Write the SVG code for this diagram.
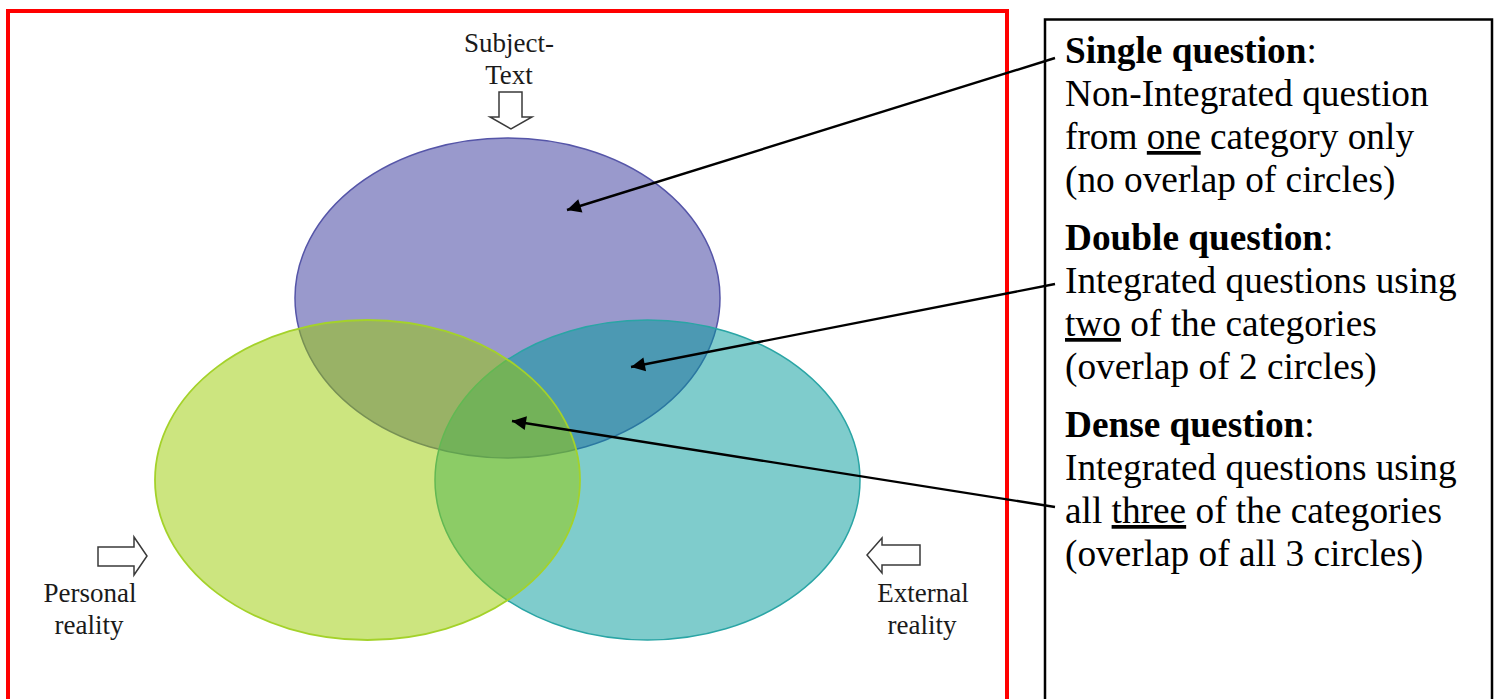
<svg xmlns="http://www.w3.org/2000/svg" width="1497" height="699" viewBox="0 0 1497 699">
  <defs>
    <marker id="head" viewBox="0 0 10 10" refX="10" refY="5" markerWidth="18" markerHeight="14" markerUnits="userSpaceOnUse" orient="auto" overflow="visible">
      <path d="M0,0 L10,5 L0,10 z" fill="#000"/>
    </marker>
    <style>
      .lbl { font-family: "Liberation Serif", "Times New Roman", serif; font-size: 27px; fill: #1a1a1a; text-anchor: middle; }
      .txt { font-family: "Liberation Serif", "Times New Roman", serif; font-size: 37.3px; fill: #000; }
      .ttl { font-weight: bold; }
      .u { text-decoration: underline; }
      .blk { fill: #fff; stroke: #3a3a3a; stroke-width: 1.5; stroke-linejoin: miter; }
      .conn { stroke: #000; stroke-width: 2.4; fill: none; }
    </style>
  </defs>

  <rect width="1497" height="699" fill="#fff"/>

  <!-- outer frame of the diagram panel -->
  <rect x="8" y="11" width="999" height="720" fill="none" stroke="#ff0000" stroke-width="4"/>

  <!-- legend panel -->
  <g id="legend">
    <rect x="1045" y="19.5" width="447" height="720" fill="none" stroke="#000" stroke-width="2.5"/>
    <text class="txt" x="1065" y="63"><tspan class="ttl">Single question</tspan>:</text>
    <text class="txt" x="1065" y="106">Non-Integrated question</text>
    <text class="txt" x="1065" y="149">from <tspan class="u">one</tspan> category only</text>
    <text class="txt" x="1065" y="192">(no overlap of circles)</text>

    <text class="txt" x="1065" y="250"><tspan class="ttl">Double question</tspan>:</text>
    <text class="txt" x="1065" y="293">Integrated questions using</text>
    <text class="txt" x="1065" y="336"><tspan class="u">two</tspan> of the categories</text>
    <text class="txt" x="1065" y="379">(overlap of 2 circles)</text>

    <text class="txt" x="1065" y="437"><tspan class="ttl">Dense question</tspan>:</text>
    <text class="txt" x="1065" y="480">Integrated questions using</text>
    <text class="txt" x="1065" y="523">all <tspan class="u">three</tspan> of the categories</text>
    <text class="txt" x="1065" y="566">(overlap of all 3 circles)</text>
  </g>

  <!-- three overlapping categories -->
  <g id="subject-text">
    <ellipse cx="507.5" cy="298" rx="212.5" ry="160" fill="rgb(51,51,153)" fill-opacity="0.5" stroke="#5555a8" stroke-width="1.5"/>
  </g>
  <g id="external-reality">
    <ellipse cx="647.5" cy="480" rx="212.5" ry="160" fill="rgb(0,153,153)" fill-opacity="0.5" stroke="#2aa5a5" stroke-width="1.5"/>
  </g>
  <g id="personal-reality">
    <ellipse cx="367.5" cy="480" rx="212.5" ry="160" fill="rgb(153,204,0)" fill-opacity="0.5" stroke="#a4d22a" stroke-width="1.8"/>
  </g>

  <!-- input labels with block arrows -->
  <g id="label-subject">
    <text class="lbl" x="509" y="52">Subject-</text>
    <text class="lbl" x="509" y="84">Text</text>
    <path class="blk" d="M499,92 H522 V117 H532 L511,129 L490,117 H499 Z"/>
  </g>
  <g id="label-personal">
    <path class="blk" d="M98,547 H134 V537 L147,556 L134,575 V566 H98 Z"/>
    <text class="lbl" x="90" y="602">Personal</text>
    <text class="lbl" x="89" y="634">reality</text>
  </g>
  <g id="label-external">
    <path class="blk" d="M920,545 H882 V538 L867,555 L882,573 V565 H920 Z"/>
    <text class="lbl" x="923" y="602">External</text>
    <text class="lbl" x="922" y="634">reality</text>
  </g>

  <!-- pointers from the legend into the regions -->
  <g id="connectors">
    <line class="conn" x1="1055" y1="58" x2="567" y2="210" marker-end="url(#head)"/>
    <line class="conn" x1="1055" y1="284" x2="631" y2="367" marker-end="url(#head)"/>
    <line class="conn" x1="1055" y1="507" x2="512" y2="421" marker-end="url(#head)"/>
  </g>
</svg>
